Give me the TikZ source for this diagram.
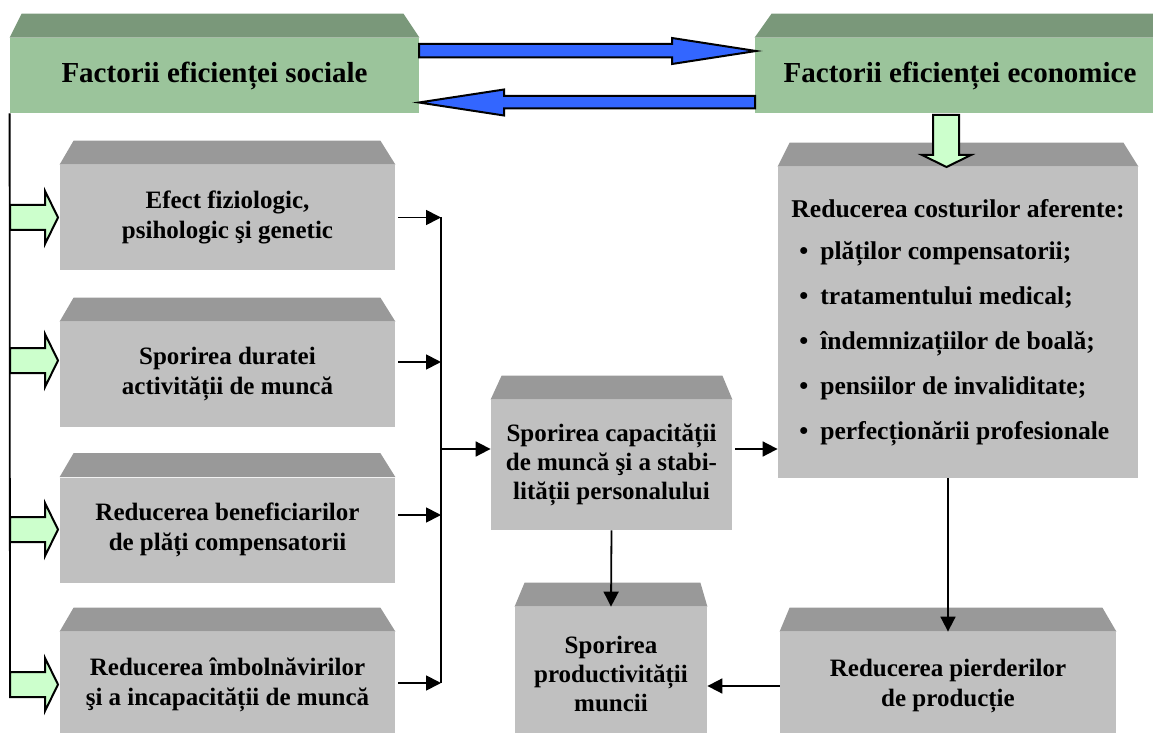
\documentclass[tikz,border=0pt]{standalone}
\usepackage{fontspec}
\setmainfont{Liberation Serif}
\usetikzlibrary{arrows.meta}
\definecolor{frontgreen}{HTML}{9BC49B}
\definecolor{topgreen}{HTML}{7A987A}
\definecolor{frontgray}{HTML}{C0C0C0}
\definecolor{topgray}{HTML}{999999}
\definecolor{paleGreen}{HTML}{CCFFCC}
\definecolor{arrowblue}{HTML}{3366FF}
\newcommand{\itm}{\hspace*{4pt}\textbullet\hspace{6pt}}
\begin{document}
\begin{tikzpicture}[x=0.5pt,y=-0.5pt,
  txt/.style={font=\bfseries\fontsize{12.5}{15}\selectfont, align=center},
  graybox/.style={fill=frontgray, inner sep=0pt, txt},
  greenbox/.style={fill=frontgreen, inner sep=0pt, font=\bfseries\fontsize{14.5}{17}\selectfont},
  conn/.style={line width=0.9pt, -{Triangle[length=7.5pt,width=7.5pt]}},
  bluearr/.style={fill=arrowblue, draw=black, line width=1pt, line join=miter},
  blockarr/.style={fill=paleGreen, draw=black, line width=1pt, line join=miter}]
\useasboundingbox (0,0) rectangle (1153,733);
\clip (0,0) rectangle (1153,733);
% top row
\node[greenbox, minimum width=204.5pt, minimum height=37.5pt] (fs) at (214.5,75.5) {Factorii eficienței sociale};
\node[greenbox, minimum width=205pt, minimum height=37.5pt] (fe) at (960,75.5) {Factorii eficienței economice};
% left column
\node[graybox, minimum width=167.5pt, minimum height=52.5pt] (b1) at (227.5,217.5) {Efect fiziologic,\\psihologic şi genetic};
\node[graybox, minimum width=167.5pt, minimum height=52.5pt] (b2) at (227.5,374.5) {Sporirea duratei\\activității de muncă};
\node[graybox, minimum width=167.5pt, minimum height=52.5pt] (b3) at (227.5,530) {Reducerea beneficiarilor\\de plăți compensatorii};
\node[graybox, minimum width=167.5pt, minimum height=52.5pt] (b4) at (227.5,684.5) {Reducerea îmbolnăvirilor\\şi a incapacității de muncă};
% middle
\node[graybox, minimum width=120.5pt, minimum height=65pt, font=\bfseries\fontsize{12.5}{14.5}\selectfont] (cap) at (611.5,465) {Sporirea capacității\\de muncă şi a stabi-\\lității personalului};
\node[graybox, minimum width=96pt, minimum height=66.5pt, font=\bfseries\fontsize{12.5}{14.5}\selectfont] (prod) at (611,673.5) {Sporirea\\productivității\\muncii};
% right column
\node[graybox, minimum width=180pt, minimum height=155.5pt, align=left, font=\bfseries\fontsize{12.8}{15}\selectfont] (cost) at (958,322.5) {Reducerea costurilor aferente:\\[6pt]
\itm plăților compensatorii;\\[7.5pt]
\itm tratamentului medical;\\[7.5pt]
\itm îndemnizațiilor de boală;\\[7.5pt]
\itm pensiilor de invaliditate;\\[7.5pt]
\itm perfecționării profesionale};
\node[graybox, minimum width=168pt, minimum height=54pt] (loss) at (948,686) {Reducerea pierderilor\\de producție};
% bevels
\foreach \n/\l/\r in {fs/12/16, fe/17/0}
  \fill[topgreen] (\n.north west) -- ([xshift=\l*0.5pt, yshift=12pt]\n.north west) -- ([xshift=-\r*0.5pt, yshift=12pt]\n.north east) -- (\n.north east) -- cycle;
\foreach \n/\l/\r in {b1/14/15, b2/14/15, b3/14/15, b4/14/15, cap/11/10, prod/10/7, cost/12/15, loss/10/14}
  \fill[topgray] (\n.north west) -- ([xshift=\l*0.5pt, yshift=12pt]\n.north west) -- ([xshift=-\r*0.5pt, yshift=12pt]\n.north east) -- (\n.north east) -- cycle;
% blue arrows
\filldraw[bluearr] (419,44) -- (672,44) -- (672,38) -- (756,51) -- (672,64) -- (672,57.5) -- (419,57.5) -- cycle;
\filldraw[bluearr] (755,96) -- (504,96) -- (504,89.5) -- (419,102.5) -- (504,115.5) -- (504,108.5) -- (755,108.5) -- cycle;
% green block arrows
\coordinate (lend) at (10,697);
\draw[line width=0.9pt] (fs.south west) -- (lend);
\foreach \y in {217.5,360.5,529.5,684.5}
  \filldraw[blockarr] (10,\y) ++(0,-12.5) -- ++(35,0) -- ++(0,-14) -- ++(13,26.5) -- ++(-13,26.5) -- ++(0,-14) -- ++(-35,0) -- cycle;
\filldraw[blockarr] (933,115) -- (959,115) -- (959,155) -- (971,155) -- (946.5,167) -- (922,155) -- (933,155) -- cycle;
% connectors
\coordinate (j1) at (441,217.5);
\coordinate (j2) at (441,362);
\coordinate (j3) at (441,515);
\coordinate (j4) at (441,683);
\coordinate (j0) at (441,449);
\draw[line width=0.9pt] (j1) -- (j4);
\draw[conn, shorten <=1.5pt] (b1.east |- j1) -- (j1);
\draw[conn, shorten <=1.5pt] (b2.east |- j2) -- (j2);
\draw[conn, shorten <=1.5pt] (b3.east |- j3) -- (j3);
\draw[conn, shorten <=1.5pt] (b4.east |- j4) -- (j4);
\draw[conn] (j0) -- (cap.west |- j0);
\draw[conn, shorten <=1.5pt] (cap.east |- j0) -- (cost.west |- j0);
\draw[conn] (cap.south) -- (prod.north);
\draw[conn] (cost.south -| loss.north) -- (loss.north);
\draw[conn] (loss.west) -- (prod.east |- loss.west);
\end{tikzpicture}
\end{document}
